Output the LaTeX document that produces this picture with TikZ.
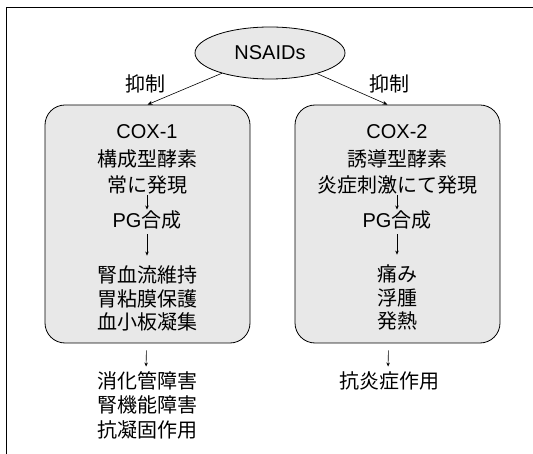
\documentclass[tikz,border=0pt]{standalone}
\usepackage{fontspec}
\setmainfont{Noto Sans CJK JP}
\newfontfamily\latf{Liberation Sans}
\usetikzlibrary{shapes.geometric,arrows.meta,calc}
\begin{document}
\begin{tikzpicture}[x=1pt,y=-1pt,
  font=\fontsize{20}{24}\selectfont,
  every node/.style={inner sep=0pt},
  cbox/.style={draw, line width=0.8pt, rounded corners=20pt, fill=black!9, minimum width=205pt, minimum height=238pt},
  arr/.style={line width=0.6pt, -{Stealth[length=5pt,width=4pt]}},
  sarr/.style={line width=0.6pt, -{Stealth[length=4pt,width=3.5pt]}}
]
\useasboundingbox (0,0) rectangle (533,454);
\fill[white] (0,0) rectangle (533,454);
\draw[line width=0.8pt] (6,454) -- (6,7) -- (533,7);

\node[ellipse, draw, line width=0.8pt, fill=black!9, minimum width=150pt, minimum height=52pt] (ns) at (270,53) {\latf NSAIDs};

\node[cbox] (b1) at (147.5,224) {};
\node[cbox] (b2) at (397.5,224) {};

\draw[arr] (ns) -- (b1.north);
\draw[arr] (ns) -- ($(b2.north)+(-10,0)$);
\node (l1) at (145,84) {抑制};
\node (l2) at (389,84) {抑制};

% left box
\node (a1) at (147,132) {\latf COX-1};
\node (a2) at (147,159) {構成型酵素};
\node (a3) at (147,185) {常に発現};
\node (a4) at (147,220) {{\latf PG}合成};
\node (a5) at (147,275) {腎血流維持};
\node (a6) at (147,299) {胃粘膜保護};
\node (a7) at (147,322) {血小板凝集};
\draw[sarr] ($(a3.south)+(0,1)$) -- ($(a4.north)+(0,-1)$);
\draw[sarr, shorten <=5pt, shorten >=10pt] (a4.south) -- (a5.north);

% right box
\node (c1) at (397,132) {\latf COX-2};
\node (c2) at (397,159) {誘導型酵素};
\node (c3) at (397,185) {炎症刺激にて発現};
\node (c4) at (397,220) {{\latf PG}合成};
\node (c5) at (397,274) {痛み};
\node (c6) at (397,298) {浮腫};
\node (c7) at (397,321) {発熱};
\draw[sarr] ($(c3.south)+(0,1)$) -- ($(c4.north)+(0,-1)$);
\draw[sarr, shorten <=5pt, shorten >=10pt] (c4.south) -- (c5.north);

% below
\node (d1) at (147,381) {消化管障害};
\node (d2) at (147,405) {腎機能障害};
\node (d3) at (147,430) {抗凝固作用};
\node (e1) at (389,381) {抗炎症作用};
\draw[sarr, shorten <=7pt, shorten >=5pt] ($(b1.south)+(-1,0)$) -- (d1.north -| 146,0);
\draw[sarr, shorten <=7pt, shorten >=5pt] ($(b2.south)+(-9,0)$) -- (e1.north -| 388,0);
\end{tikzpicture}
\end{document}
